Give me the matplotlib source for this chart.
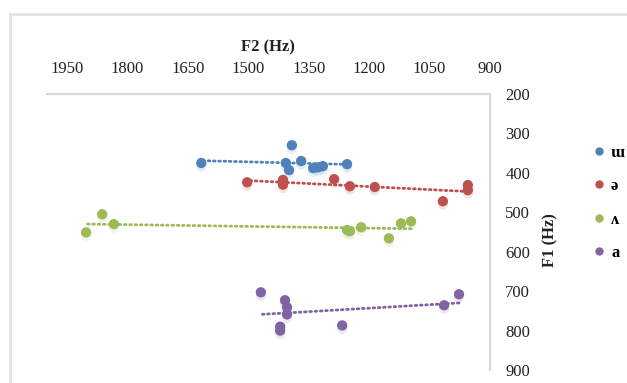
import numpy as np
import matplotlib
matplotlib.use("Agg")
import matplotlib.pyplot as plt
import matplotlib.patheffects as pe
from matplotlib.lines import Line2D

plt.rcParams["font.family"] = ["Liberation Serif", "DejaVu Serif"]

# formant values per vowel (F2, F1 in Hz)
vowels = ["ɯ", "ə", "ʌ", "a"]
colors = ["#4F81BD", "#C0504D", "#9BBB59", "#8064A2"]

f2_u = [1617, 1392, 1407, 1399, 1369, 1339, 1327, 1315, 1255]
f1_u = [375, 330, 375, 393, 370, 388, 386, 383, 378]

f2_schwa = [1503, 1414, 1414, 1287, 1248, 1186, 1017, 955, 955]
f1_schwa = [424, 418, 430, 416, 434, 436, 472, 431, 444]

f2_wedge = [1903, 1863, 1834, 1255, 1248, 1220, 1151, 1121, 1096]
f1_wedge = [551, 505, 530, 545, 548, 538, 566, 528, 523]

f2_a = [1469, 1409, 1404, 1404, 1421, 1421, 1267, 1014, 977]
f1_a = [703, 723, 741, 759, 790, 800, 787, 736, 708]

f2_all = [f2_u, f2_schwa, f2_wedge, f2_a]
f1_all = [f1_u, f1_schwa, f1_wedge, f1_a]

x_ticks = [1950, 1800, 1650, 1500, 1350, 1200, 1050, 900]
y_ticks = [200, 300, 400, 500, 600, 700, 800, 900]

fig = plt.figure(figsize=(6.27, 3.83), dpi=100)
ax = fig.add_axes([0.075, 0.034, 0.7065, 0.7206])

for f2, f1, c in zip(f2_all, f1_all, colors):
    f2 = np.array(f2, dtype=float)
    f1 = np.array(f1, dtype=float)
    # linear trend of F1 on F2
    k, b = np.polyfit(f2, f1, 1)
    xs = np.array([f2.min(), f2.max()])
    ax.plot(xs, k * xs + b, ls=(0, (0.6, 1.3)), lw=2.0, color=c,
            dash_capstyle="round", zorder=2)
    ax.scatter(f2, f1, s=55, color=c, edgecolors="none", zorder=3,
               path_effects=[pe.SimplePatchShadow(offset=(0, -2.5), shadow_rgbFace=c, alpha=0.15),
                             pe.Normal()])

ax.set_xlim(2000, 900)
ax.set_ylim(900, 200)
ax.set_xticks(x_ticks)
ax.set_yticks(y_ticks)
ax.xaxis.tick_top()
ax.yaxis.tick_right()
ax.tick_params(axis="x", length=0, pad=12, labelsize=12, colors="#222222")
ax.tick_params(axis="y", length=0, pad=11, labelsize=12, colors="#222222")
for side in ["left", "bottom"]:
    ax.spines[side].set_visible(False)
for side in ["top", "right"]:
    ax.spines[side].set_color("#d9d9d9")
    ax.spines[side].set_linewidth(1.5)

fig.text(268 / 627, 1 - 47 / 383, "F2 (Hz)", ha="center", va="center",
         fontsize=12, fontweight="bold", color="#222222")
fig.text(550 / 627, 1 - 240 / 383, "F1 (Hz)", ha="center", va="center",
         rotation=90, fontsize=12, fontweight="bold", color="#222222")

handles = [Line2D([], [], ls="none", marker="o", markersize=6, color=c,
                  markeredgewidth=0) for c in colors]
fig.legend(handles, vowels, loc="center left",
           bbox_to_anchor=(586 / 627, 1 - 203 / 383), frameon=False,
           prop={"size": 12, "weight": "bold"}, handlelength=0.6,
           handletextpad=0.4, labelspacing=1.05, borderpad=0)

# chart area border
fig.add_artist(Line2D([10 / 627, 10 / 627], [0, 1 - 14 / 383],
                      transform=fig.transFigure, color="#e3e3e3", lw=2))
fig.add_artist(Line2D([10 / 627, 1], [1 - 14 / 383, 1 - 14 / 383],
                      transform=fig.transFigure, color="#e3e3e3", lw=2))

fig.savefig("out.png", dpi=100)
